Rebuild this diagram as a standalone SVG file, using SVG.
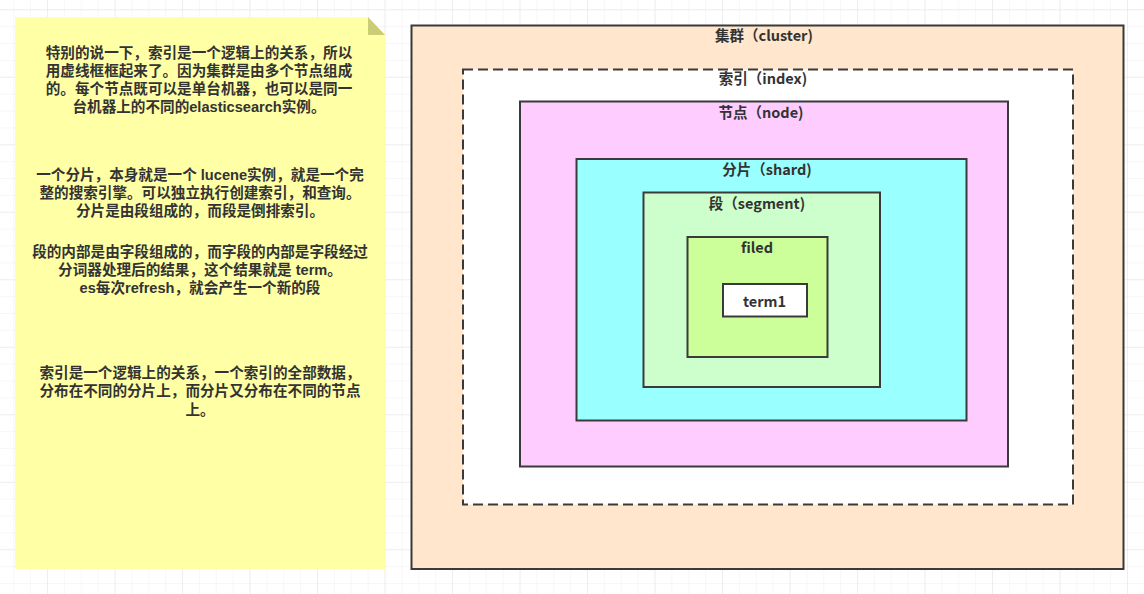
<svg xmlns="http://www.w3.org/2000/svg" width="1144" height="594" viewBox="0 0 1144 594">
  <defs>
    <pattern id="gridMinor" patternUnits="userSpaceOnUse" x="13.3" y="9.3" width="16.875" height="16.875">
      <path d="M0 0V16.875M0 0H16.875" fill="none" stroke="#f0f0f0" stroke-width="1"/>
    </pattern>
    <pattern id="gridMajor" patternUnits="userSpaceOnUse" x="47.05" y="9.3" width="67.5" height="67.5">
      <path d="M0 0V67.5M0 0H67.5" fill="none" stroke="#e6e6e6" stroke-width="1"/>
    </pattern>
  </defs>
  <style>
    .box { stroke: #3a3a3a; stroke-width: 2; }
    .lbl { font-family: "Noto Sans CJK SC", "Noto Sans", sans-serif; font-size: 14.5px; font-weight: bold; fill: #333333; text-anchor: middle; dominant-baseline: central; }
    .note { font-family: "Liberation Sans", "Noto Sans CJK SC", sans-serif; font-size: 14.6px; font-weight: bold; fill: #333333; text-anchor: middle; dominant-baseline: central; }
  </style>
  <rect width="1144" height="594" fill="#ffffff"/>
  <rect width="1144" height="594" fill="url(#gridMinor)"/>
  <rect width="1144" height="594" fill="url(#gridMajor)"/>

  <g id="note">
    <path d="M15 17H368L385 35V569H15Z" fill="#ffffa6"/>
    <path d="M368 17L385 35H368Z" fill="#cccc77"/>
    <text class="note" x="199" y="53"><tspan x="199" y="53">特别的说一下，索引是一个逻辑上的关系，所以</tspan><tspan x="199" y="71">用虚线框框起来了。因为集群是由多个节点组成</tspan><tspan x="199" y="89">的。每个节点既可以是单台机器，也可以是同一</tspan><tspan x="199" y="107">台机器上的不同的elasticsearch实例。</tspan></text>
    <text class="note" x="200" y="175"><tspan x="200" y="175">一个分片，本身就是一个 lucene实例，就是一个完</tspan><tspan x="200" y="193">整的搜索引擎。可以独立执行创建索引，和查询。</tspan><tspan x="200" y="211">分片是由段组成的，而段是倒排索引。</tspan></text>
    <text class="note" x="200" y="252"><tspan x="200" y="252">段的内部是由字段组成的，而字段的内部是字段经过</tspan><tspan x="200" y="270">分词器处理后的结果，这个结果就是 term。</tspan><tspan x="200" y="288">es每次refresh，就会产生一个新的段</tspan></text>
    <text class="note" x="200" y="373"><tspan x="200" y="373">索引是一个逻辑上的关系，一个索引的全部数据，</tspan><tspan x="200" y="391">分布在不同的分片上，而分片又分布在不同的节点</tspan><tspan x="200" y="410">上。</tspan></text>
  </g>

  <g id="cluster">
    <rect class="box" x="411.5" y="25.5" width="712" height="543.5" fill="#ffe6cc"/>
    <text class="lbl" x="764" y="34.5">集群（cluster)</text>
  </g>
  <g id="index">
    <rect x="463" y="69.5" width="610" height="435" fill="#ffffff" stroke="#3a3a3a" stroke-width="2" stroke-dasharray="10 5"/>
    <text class="lbl" x="763" y="77.5">索引（index)</text>
  </g>
  <g id="node">
    <rect class="box" x="520" y="101.5" width="488" height="365" fill="#ffccff"/>
    <text class="lbl" x="761" y="111.5">节点（node)</text>
  </g>
  <g id="shard">
    <rect class="box" x="576.5" y="159" width="390" height="261.5" fill="#99ffff"/>
    <text class="lbl" x="767" y="168.5">分片（shard)</text>
  </g>
  <g id="segment">
    <rect class="box" x="643.5" y="192.5" width="236.5" height="194.5" fill="#ccffcc"/>
    <text class="lbl" x="757" y="202">段（segment)</text>
  </g>
  <g id="filed">
    <rect class="box" x="687.5" y="237" width="140" height="120" fill="#ccff99"/>
    <text class="lbl" x="757" y="246">filed</text>
  </g>
  <g id="term1">
    <rect class="box" x="723" y="284" width="84" height="32.5" fill="#ffffff"/>
    <text class="lbl" x="764.5" y="300">term1</text>
  </g>
  <g id="connectors"/>
</svg>
